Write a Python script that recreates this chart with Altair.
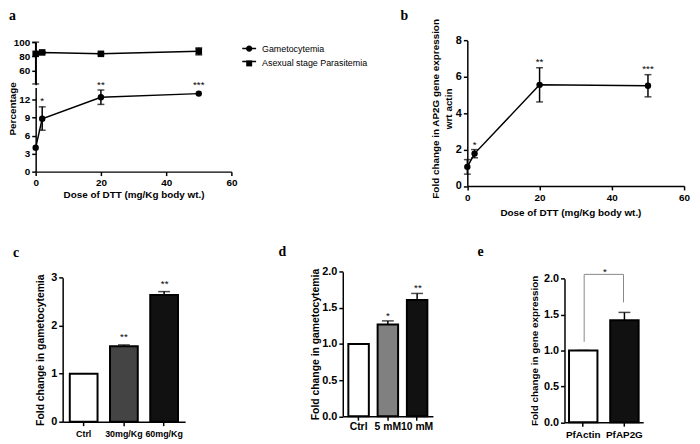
import altair as alt
import pandas as pd

SANS = "Liberation Sans"
SERIF = "Liberation Serif"
H = 436  # chart height (plot area, padding 0)

# ---------------- data ----------------
dose = [0, 2, 20, 50]

gam_mean = [4.0, 8.8, 12.4, 13.0]
gam_low = [None, 6.9, 11.2, None]
gam_high = [None, 10.8, 13.6, None]
gam_star = ["", "*", "**", "***"]
gam_star_y = [4.0, 12.2, 14.9, 14.9]

asx_mean = [83.5, 85.5, 83.5, 87.0]
asx_low = [41.0, 84.5, 82.5, 82.0]
asx_high = [100.0, 86.5, 84.5, 92.0]

series_names = ["Gametocytemia", "Asexual stage Parasitemia"]

b_mean = [1.05, 1.78, 5.56, 5.51]
b_low = [0.65, 1.55, 4.62, 4.90]
b_high = [1.45, 2.00, 6.50, 6.12]
b_star = ["", "*", "**", "***"]
b_star_y = [1.05, 2.42, 6.98, 6.59]

c_cat = ["Ctrl", "30mg/Kg", "60mg/Kg"]
c_val = [1.0, 1.57, 2.64]
c_high = [1.0, 1.60, 2.71]
c_star = ["", "**", "**"]
c_star_y = [1.0, 1.83, 2.93]
c_fill = ["#ffffff", "#444444", "#111111"]

d_cat = ["Ctrl", "5 mM", "10 mM"]
d_val = [1.0, 1.27, 1.61]
d_high = [1.0, 1.32, 1.70]
d_star = ["", "*", "**"]
d_star_y = [1.0, 1.43, 1.82]
d_fill = ["#ffffff", "#808080", "#111111"]

e_cat = ["PfActin", "PfAP2G"]
e_val = [1.0, 1.42]
e_high = [1.0, 1.53]
e_fill = ["#ffffff", "#111111"]
e_bracket_cat = ["PfActin", "PfActin", "PfAP2G", "PfAP2G"]
e_bracket_y = [1.12, 2.06, 2.06, 1.67]
e_star = ["*"]
e_star_y = [2.13]

panel_letters = ["a", "b", "c", "d", "e"]


def base_axis(**kw):
    d = dict(domainColor="black", domainWidth=1.5, tickColor="black", tickWidth=1.5, tickSize=4,
             labelFont=SANS, labelFontWeight="bold", labelColor="black", labelFontSize=10,
             labelPadding=2, titleFont=SANS, titleFontWeight="bold", titleColor="black",
             titleFontSize=10, grid=False)
    d.update(kw)
    return alt.Axis(**d)


def star_text(C):
    return C.mark_text(font=SANS, fontSize=10, color="black", fill="black", baseline="middle", dy=3)


def line_panel(df, xs, ys, xaxis, yaxis, marker, with_stars):
    """Return list of unit charts for a line + error bar panel."""
    C = alt.Chart(df)
    xn = alt.X("dose:Q", scale=xs, axis=None)
    units = []
    units.append(C.mark_line(color="black", strokeWidth=1.5).encode(
        x=alt.X("dose:Q", scale=xs, axis=xaxis),
        y=alt.Y("mean:Q", scale=ys, axis=yaxis)))
    units.append(C.mark_rule(color="black", strokeWidth=1.5).encode(
        x=xn, y=alt.Y("low:Q", scale=ys, axis=None), y2="high:Q"))
    for fld in ["low", "high"]:
        units.append(C.mark_tick(orient="horizontal", color="black", size=7, thickness=1.5).encode(
            x=xn, y=alt.Y(fld + ":Q", scale=ys, axis=None)))
    if marker == "circle":
        m = C.mark_circle(size=42, color="black", opacity=1)
    else:
        m = C.mark_square(size=44, color="black", opacity=1)
    units.append(m.encode(x=xn, y=alt.Y("mean:Q", scale=ys, axis=None)))
    if with_stars:
        units.append(star_text(C).encode(
            x=xn, y=alt.Y("star_y:Q", scale=ys, axis=None), text="star:N"))
    return units


units = []

# ---------------- panel a ----------------
xa_scale = alt.Scale(domain=[0, 60], range=[28, 226], nice=False, zero=False)
dfa = pd.DataFrame({"dose": dose, "mean": gam_mean, "low": gam_low, "high": gam_high,
                    "star": gam_star, "star_y": gam_star_y})
units += line_panel(
    dfa, xa_scale,
    alt.Scale(domain=[0, 14], range=[163, 78], nice=False, zero=False),
    base_axis(orient="bottom", offset=163 - H, values=[0, 20, 40, 60], labelFlush=False,
              title="Dose of DTT (mg/Kg body wt.)", titleY=18, titleBaseline="top"),
    base_axis(orient="left", offset=-28, values=[0, 3, 6, 9, 12], title="Percentage",
              titleX=-18, titleY=99),
    "circle", True)

dfa2 = pd.DataFrame({"dose": dose, "mean": asx_mean, "low": asx_low, "high": asx_high})
units += line_panel(
    dfa2, xa_scale,
    alt.Scale(domain=[40, 100], range=[75, 32], nice=False, zero=False),
    None,
    base_axis(orient="left", offset=-28, values=[60, 80, 100], title=None),
    "square", False)

# legend for panel a: line part (stroke symbols, labels hidden) + marker part (labels shown).
# The line legend's domain differs (trailing space) so the two legends are not merged.
LEG_X, LEG_Y, LEG_SIZE, LEG_ROWPAD = 236, 30.5, 196, -2
line_domain = [s + " " for s in series_names]
units.append(alt.Chart(pd.DataFrame({"series_line": pd.Series([], dtype=str)})).mark_line(
    color="black", strokeWidth=1.5
).encode(
    strokeDash=alt.StrokeDash("series_line:N",
                              scale=alt.Scale(domain=line_domain, range=[[1, 0], [1, 0]]),
                              legend=alt.Legend(title=None, orient="none", legendX=LEG_X,
                                                legendY=LEG_Y, symbolSize=LEG_SIZE,
                                                symbolType="stroke", symbolStrokeColor="black",
                                                symbolStrokeWidth=1.5, symbolOpacity=1,
                                                labelFont=SANS, labelFontSize=9, labelOpacity=0,
                                                labelOffset=5, rowPadding=LEG_ROWPAD))
))
circ_path = "M-0.46,0A0.46,0.46,0,1,1,0.46,0A0.46,0.46,0,1,1,-0.46,0Z"
sq_path = "M-0.43,-0.43L0.43,-0.43L0.43,0.43L-0.43,0.43Z"
units.append(alt.Chart(pd.DataFrame({"series_mark": pd.Series([], dtype=str)})).mark_point(
    filled=True, fill="black", opacity=1
).encode(
    shape=alt.Shape("series_mark:N",
                    scale=alt.Scale(domain=series_names, range=[circ_path, sq_path]),
                    legend=alt.Legend(title=None, orient="none", legendX=LEG_X, legendY=LEG_Y,
                                      symbolSize=LEG_SIZE, symbolFillColor="black",
                                      symbolOpacity=1, labelFont=SANS, labelFontSize=9,
                                      labelColor="black", labelOffset=5, rowPadding=LEG_ROWPAD))
))

# ---------------- panel b ----------------
dfb = pd.DataFrame({"dose": dose, "mean": b_mean, "low": b_low, "high": b_high,
                    "star": b_star, "star_y": b_star_y})
units += line_panel(
    dfb,
    alt.Scale(domain=[0, 60], range=[464.7, 684], nice=False, zero=False),
    alt.Scale(domain=[0, 8], range=[177.5, 30.3], nice=False, zero=False),
    base_axis(orient="bottom", offset=177.5 - H, values=[0, 20, 40, 60], labelFlush=False,
              labelPadding=3, title="Dose of DTT (mg/Kg body wt.)", titleX=569,
              titleY=21.5, titleBaseline="top"),
    base_axis(orient="left", offset=-464.7, values=[0, 2, 4, 6, 8], labelFontSize=11,
              title=["Fold change in AP2G gene expression", "wrt actin"],
              titleX=-27, titleY=99, titleLineHeight=13),
    "circle", True)


# ---------------- bar panels ----------------
def bar_panel(cats, vals, highs, fills, stars, star_y, xrange, pin, pout, axis_y, x_fs, x_pad,
              yrange, ydom, yvals, yfmt, y_off, ytitle, ytitle_x, ytitle_fs):
    df = pd.DataFrame({"cat": cats, "val": vals, "high": highs, "fill": fills,
                       "star": stars, "star_y": star_y})
    xs = alt.Scale(domain=cats, range=xrange, paddingInner=pin, paddingOuter=pout)
    x = alt.X("cat:N", scale=xs, sort=cats,
              axis=base_axis(orient="bottom", offset=axis_y - H, labelAngle=0, labelFontSize=x_fs,
                             labelPadding=x_pad, labelOverlap=False, title=None))
    xn = alt.X("cat:N", scale=xs, sort=cats, axis=None, bandPosition=0.5)
    ys = alt.Scale(domain=ydom, range=yrange, nice=False, zero=False)
    y = alt.Y("val:Q", scale=ys,
              axis=base_axis(orient="left", offset=y_off, values=yvals, format=yfmt,
                             labelFontSize=11, title=ytitle, titleX=ytitle_x,
                             titleFontSize=ytitle_fs))
    C = alt.Chart(df)
    out = [
        C.mark_rule(color="black", strokeWidth=1.5).encode(
            x=xn, y=alt.Y("val:Q", scale=ys, axis=None), y2="high:Q"),
        C.mark_tick(orient="horizontal", color="black", size=12, thickness=1.5).encode(
            x=xn, y=alt.Y("high:Q", scale=ys, axis=None)),
        C.mark_bar(stroke="black", strokeWidth=2).encode(
            x=x, y=y, fill=alt.Fill("fill:N", scale=None)),
        star_text(C).encode(
            x=xn, y=alt.Y("star_y:Q", scale=ys, axis=None), text="star:N"),
    ]
    return out, xs, ys


c_units, _, _ = bar_panel(c_cat, c_val, c_high, c_fill, c_star, c_star_y,
                          [55.3, 179.2], 0.31, 0.177, 416, 9, 4,
                          [416, 270.3], [0, 3], [0, 1, 2, 3], "d", -55.3,
                          "Fold change in gametocytemia", -17.8, 10.5)
units += c_units

d_units, _, _ = bar_panel(d_cat, d_val, d_high, d_fill, d_star, d_star_y,
                          [338.7, 429.9], 0.30, 0.19, 410.5, 10.5, 1.5,
                          [410.5, 264.3], [0, 2], [0, 0.5, 1, 1.5, 2], ".1f", -338.7,
                          "Fold change in gametocytemia", -22.9, 10.5)
units += d_units

e_units, e_xs, e_ys = bar_panel(e_cat, e_val, e_high, e_fill, ["", ""], e_val,
                                [563, 642.6], 0.31, 0.11, 416.5, 10, 3,
                                [416.5, 271.3], [0, 2], [0, 0.5, 1, 1.5, 2], ".1f", -563,
                                "Fold change in gene expression", -25.5, 10)
units += e_units
dfe_br = pd.DataFrame({"cat": e_bracket_cat, "y": e_bracket_y, "o": [0, 1, 2, 3]})
units.append(alt.Chart(dfe_br).mark_line(color="#888888", strokeWidth=1).encode(
    x=alt.X("cat:N", scale=e_xs, sort=e_cat, axis=None, bandPosition=0.5),
    y=alt.Y("y:Q", scale=e_ys, axis=None),
    order=alt.Order("o:Q")))
dfe_st = pd.DataFrame({"cat": ["PfActin"], "star": e_star, "y": e_star_y})
units.append(alt.Chart(dfe_st).mark_text(font=SANS, fontSize=10, color="black", fill="black",
                                         baseline="middle", dy=3, dx=20.9).encode(
    x=alt.X("cat:N", scale=e_xs, sort=e_cat, axis=None, bandPosition=0.5),
    y=alt.Y("y:Q", scale=e_ys, axis=None), text="star:N"))

# ---------------- panel letters ----------------
letter_pos = [(1, 10), (397, 10), (5, 249), (273.7, 248.7), (475, 248.7)]
for ch, (lx, ly) in zip(panel_letters, letter_pos):
    units.append(
        alt.Chart(pd.DataFrame({"t": [ch]})).mark_text(
            font=SERIF, fontWeight="bold", fontSize=14, align="left", baseline="alphabetic",
            color="black").encode(text="t:N", x=alt.value(lx), y=alt.value(ly)))

chart = alt.layer(*units).resolve_scale(
    x="independent", y="independent"
).resolve_axis(
    x="independent", y="independent"
).properties(
    width=692, height=H, autosize=alt.AutoSizeParams(type="none"), padding=0
).configure_view(stroke=None)

chart.save("out.html", embed_options={"renderer": "svg", "actions": False})
